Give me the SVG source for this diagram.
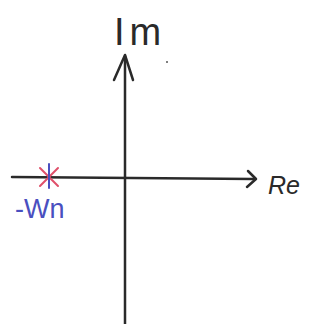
<svg xmlns="http://www.w3.org/2000/svg" width="323" height="324" viewBox="0 0 323 324">
<style>
.ax{stroke:#2a2a2a;stroke-width:2.5;fill:none;stroke-linecap:round;stroke-linejoin:round}
.lbl{font-family:"Liberation Sans",Arial,sans-serif;fill:#2a2a2a}
.blue{fill:#4a4fc0}
</style>
<rect width="323" height="324" fill="#ffffff"/>
<g id="connectors">
<path class="ax" d="M12,177 L253,179"/>
<path class="ax" d="M248,171 L256,179 L247,187"/>
<path class="ax" d="M125,324 L125,56"/>
<path class="ax" d="M114,80 L125,55 L133,80"/>
</g>
<g id="pole">
<path d="M40,168 L58,186 M58,168 L40,186" stroke="#e0506a" stroke-width="2" stroke-linecap="round"/>
<path d="M49,164 L49,188" stroke="#4a4fc0" stroke-width="2" stroke-linecap="round"/>
</g>
<g id="label-im"><text class="lbl" x="114" y="45" font-size="38" letter-spacing="5">Im</text></g>
<g id="label-re"><text class="lbl" x="268" y="194" font-size="25" font-style="italic">Re</text></g>
<g id="label-wn"><text class="lbl blue" x="15" y="218" font-size="27">-Wn</text></g>
<circle cx="167" cy="62" r="1" fill="#555"/>
</svg>
